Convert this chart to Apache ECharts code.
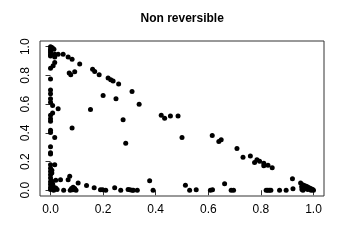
<!DOCTYPE html>
<html>
<head>
<meta charset="utf-8">
<script src="https://cdn.jsdelivr.net/npm/echarts@6/dist/echarts.min.js"></script>
<style>html,body{margin:0;padding:0;background:#fff;}#c{width:345px;height:247px;}</style>
</head>
<body>
<div id="c"></div>
<script>
var titleText = "Non reversible";
var tickValues = [0, 0.2, 0.4, 0.6, 0.8, 1.0];
var tickLabels = ["0.0", "0.2", "0.4", "0.6", "0.8", "1.0"];

var upperPoints = [
  [0.00,1.00],[0.005,0.995],[0.008,0.99],[0.013,0.982],[0.00,0.982],[0.00,0.97],[0.00,0.959],
  [0.00,0.945],[0.00,0.936],[0.016,0.948],[0.016,0.929],[0.029,0.948],[0.048,0.948],[0.067,0.929],
  [0.082,0.913],[0.111,0.879],[0.016,0.89],[0.01,0.867],[0.00,0.851],[0.071,0.817],[0.077,0.805],
  [0.092,0.826],[0.16,0.844],[0.168,0.828],[0.185,0.805],[0.219,0.782],[0.229,0.77],[0.238,0.761],
  [0.259,0.741],[0.31,0.688],[0.2,0.66],[0.249,0.637],[0.337,0.6],[0.152,0.563],[0.276,0.492],
  [0.421,0.522],[0.434,0.501],[0.456,0.517],[0.485,0.517],[0.082,0.434],[0.5,0.368],[0.615,0.382],
  [0.64,0.34],[0.649,0.352],[0.709,0.291],[0.732,0.23],[0.76,0.239],[0.776,0.193],[0.785,0.212],
  [0.795,0.203],[0.811,0.189],[0.811,0.17],[0.827,0.175],[0.843,0.157],[0.286,0.327]
];
var leftPoints = [
  [0,0.775],[0,0.699],[0,0.672],[0,0.637],[0,0.614],[0.008,0.591],[0.029,0.568],[0.008,0.538],
  [0,0.522],[0,0.499],[0,0.48],[0,0.419],[0,0.403],[0.016,0.368],[0,0.303],[0,0.262],[0,0.253],
  [0,0.177],[0.016,0.177],[0,0.154],[0,0.131],[0,0.108],[0,0.085],[0,0.06],[0,0.04],[0,0.02],
  [0,0.005],[0.005,0.01],[0.01,0.03],[0.012,0.0],[0.02,0.015],[0.025,0.005],[0.005,0.12],
  [0.005,0.14],[0.005,0.065],[0.008,0.045]
];
var bottomLeftPoints = [
  [0.02,0.069],[0.038,0.074],[0.067,0.074],[0.073,0.097],[0.05,0.0],[0.08,0.012],[0.086,0.021],
  [0.092,0.012],[0.097,0.0],[0.105,0.05],[0.137,0.034],[0.166,0.018],[0.19,0.003],[0.198,0.003],
  [0.21,0.0],[0.244,0.017],[0.267,0.0],[0.295,0.005],[0.302,0.003],[0.31,0.0],[0.315,0.0],
  [0.33,0.0],[0.377,0.067],[0.39,0.0],[0.075,0.0],[0.085,0.003]
];
var bottomRightPoints = [
  [0.513,0.035],[0.529,0.0],[0.554,0.003],[0.608,0.0],[0.616,0.004],[0.662,0.045],[0.687,0.0],
  [0.696,0.0],[0.82,0.0],[0.826,0.0],[0.832,0.0],[0.838,0.0],[0.871,0.0],[0.896,0.0],[0.92,0.08],
  [0.922,0.011],[0.951,0.051],[0.959,0.039],[0.965,0.033],[0.972,0.028],[0.978,0.022],[0.985,0.016],
  [0.991,0.01],[0.997,0.005],[0.956,0.005],[0.962,0.015],[0.966,0.01],[0.97,0.02],[0.978,0.005],
  [0.984,0.008],[0.991,0.0],[1.0,0.0],[0.955,0.025],[0.96,0.0]
];

var allPoints = upperPoints.concat(leftPoints, bottomLeftPoints, bottomRightPoints);
var FONT = "Liberation Sans, Arial, Helvetica, sans-serif";

function fmt(v) {
  for (var i = 0; i < tickValues.length; i++) {
    if (Math.abs(tickValues[i] - v) < 1e-9) return tickLabels[i];
  }
  return "";
}

var chart = echarts.init(document.getElementById('c'), null, {renderer: 'canvas'});
chart.setOption({
  animation: false,
  backgroundColor: '#fff',
  title: {
    text: titleText,
    left: 140.5,
    top: 13,
    padding: 0,
    textStyle: {fontFamily: FONT, fontSize: 12, fontWeight: 'bold', color: '#000'}
  },
  grid: {
    left: 40, right: 21, top: 41, bottom: 51,
    show: true, borderColor: '#333', borderWidth: 1,
    containLabel: false, outerBoundsMode: 'none'
  },
  xAxis: {
    type: 'value', min: -0.04, max: 1.04,
    axisLine: {show: false},
    splitLine: {show: false},
    axisTick: {show: true, customValues: tickValues, length: 5, lineStyle: {color: '#333'}},
    axisLabel: {customValues: tickValues, formatter: fmt, margin: 8,
      fontFamily: FONT, fontSize: 12, color: '#000'}
  },
  yAxis: {
    type: 'value', min: -0.04, max: 1.04,
    axisLine: {show: false},
    splitLine: {show: false},
    axisTick: {show: true, customValues: tickValues, length: 5, lineStyle: {color: '#333'}},
    axisLabel: {customValues: tickValues, formatter: fmt, margin: 8, rotate: 90,
      fontFamily: FONT, fontSize: 12, color: '#000'}
  },
  series: [{
    type: 'scatter',
    data: allPoints,
    symbol: 'circle',
    symbolSize: 5,
    itemStyle: {color: '#000', opacity: 1},
    silent: true
  }]
});
</script>
</body>
</html>
